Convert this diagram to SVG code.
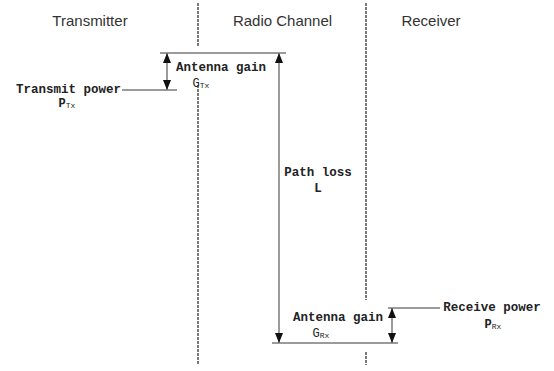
<svg xmlns="http://www.w3.org/2000/svg" width="554" height="371" viewBox="0 0 554 371">
<style>
.hdr{font-family:"Liberation Sans",Arial,sans-serif;font-size:15px;fill:#333;text-anchor:middle}
.lbl{font-family:"Liberation Mono","Courier New",monospace;font-weight:bold;font-size:12.5px;fill:#222;text-anchor:middle}
.sub{font-size:8px}
.sym{font-family:"Liberation Mono","Courier New",monospace;font-size:12px;fill:#222;text-anchor:middle}
.ln{stroke:#7a7a7a;stroke-width:1.5;fill:none}
.ar{stroke:#7a7a7a;stroke-width:1.5;fill:none;marker-start:url(#ah);marker-end:url(#ah)}
.dash{stroke:#333;stroke-width:1.3;stroke-dasharray:3 1;fill:none}
</style>
<defs>
<marker id="ah" markerUnits="userSpaceOnUse" markerWidth="10" markerHeight="8" refX="10" refY="4" orient="auto-start-reverse">
<path d="M0,0 L10,4 L0,8 z" fill="#111"/>
</marker>
</defs>
<rect width="554" height="371" fill="#fff"/>
<g id="headers">
<text class="hdr" x="90" y="26">Transmitter</text>
<text class="hdr" x="282.5" y="26">Radio Channel</text>
<text class="hdr" x="431" y="26">Receiver</text>
</g>
<g id="connectors">
<path class="dash" d="M198,3 V47 M198,85 V365"/>
<path class="dash" d="M366,3 V300 M366,352 V365"/>
<path class="ln" d="M160,53 H286"/>
<path class="ln" d="M122,90 H177"/>
<path class="ln" d="M272,343 H398"/>
<path class="ln" d="M388,308 H440"/>
<path class="ar" d="M167,53 V90"/>
<path class="ar" d="M279,53 V343"/>
<path class="ar" d="M392,308 V343"/>
</g>
<g id="transmit-power">
<text class="lbl" x="68.5" y="93">Transmit power</text>
<text class="sym" x="67" y="107"><tspan font-weight="bold">P</tspan><tspan class="sub" dy="1">Tx</tspan></text>
</g>
<g id="antenna-gain-tx">
<text class="lbl" x="221" y="70.5">Antenna gain</text>
<text class="sym" x="201" y="87">G<tspan class="sub" dy="1">Tx</tspan></text>
</g>
<g id="path-loss">
<text class="lbl" x="318" y="176">Path loss</text>
<text class="lbl" x="318" y="192">L</text>
</g>
<g id="antenna-gain-rx">
<text class="lbl" x="338" y="321">Antenna gain</text>
<text class="sym" x="321" y="337">G<tspan class="sub" dy="1">Rx</tspan></text>
</g>
<g id="receive-power">
<text class="lbl" x="492" y="311">Receive power</text>
<text class="sym" x="493" y="328"><tspan font-weight="bold">P</tspan><tspan class="sub" dy="1">Rx</tspan></text>
</g>
</svg>
